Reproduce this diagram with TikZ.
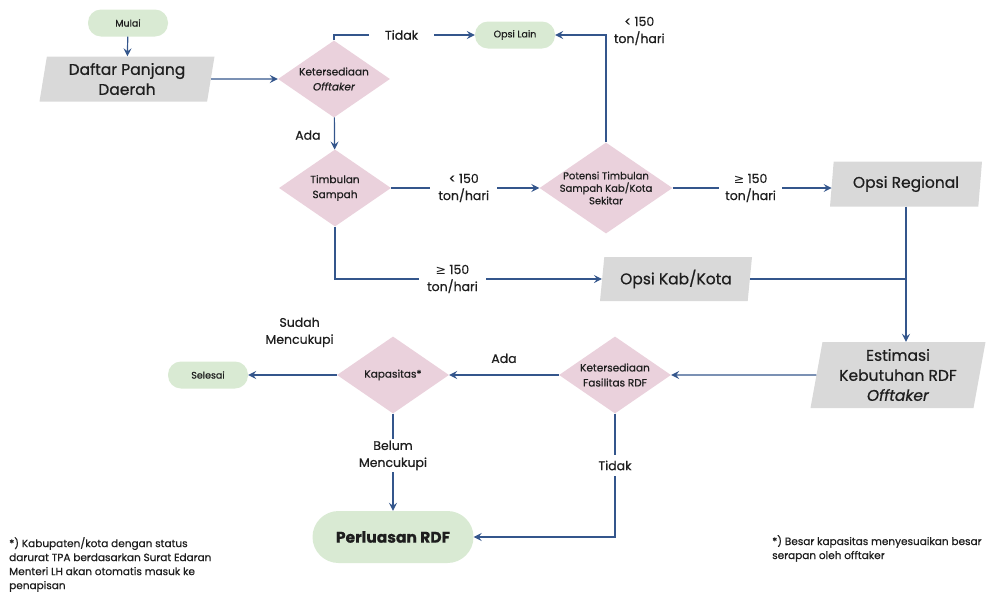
\documentclass[tikz,border=0pt]{standalone}
\usepackage{fontspec}
\setmainfont{Poppins}[FakeBold=0.6]
\newfontfamily\symfont{DejaVu Sans}
\usetikzlibrary{arrows.meta,positioning,shapes.geometric}
\definecolor{flowline}{HTML}{34568C}
\definecolor{termgreen}{HTML}{D9EAD3}
\definecolor{decpink}{HTML}{EAD1DC}
\definecolor{datagray}{HTML}{D9D9D9}
\definecolor{inktext}{HTML}{1E1E1E}
\newcommand{\gte}{{\symfont ≥}}

\begin{document}
\begin{tikzpicture}[
  x=1pt,y=-1pt,
  every node/.style={text=inktext},
  term/.style={rectangle,rounded corners=13pt,fill=termgreen,
               minimum width=80pt,minimum height=27pt,inner sep=0pt,
               font=\fontsize{9.5}{12}\selectfont},
  databox/.style={trapezium,trapezium left angle=77,trapezium right angle=103,
               trapezium stretches body,fill=datagray,minimum height=45pt,
               inner sep=0pt,align=center,font=\fontsize{15.5}{20}\selectfont},
  decide/.style={diamond,aspect=1.45,fill=decpink,minimum width=112pt,minimum height=77pt,
               inner sep=-2pt,align=center,font=\fontsize{10.5}{15}\selectfont},
  lbl/.style={fill=white,align=center,inner xsep=8pt,inner ysep=2pt,
              font=\fontsize{12.5}{17}\selectfont},
  tag/.style={align=center,font=\fontsize{12.5}{17}\selectfont},
  note/.style={align=left,inner sep=0pt,font=\fontsize{10.5}{14}\selectfont},
  arr/.style={-{Stealth[length=8pt,width=8pt,inset=3pt]},line width=1.2pt,flowline},
  seg/.style={line width=1.2pt,flowline}
]
  \useasboundingbox (0,0) rectangle (1002,595);

  % start and first choice
  \node[term] (mulai) at (128,23) {Mulai};
  \node[databox,minimum width=175pt] (daftar) at (127,79) {Daftar Panjang\\Daerah};
  \node[decide] (offtaker) at (334,79) {Ketersediaan\\\textit{Offtaker}};
  \node[term] (lain) at (515,35) {Opsi Lain};
  \node[decide] (timbulan) at (335,188) {Timbulan\\Sampah};
  \node[decide,aspect=1.46,minimum width=133pt,minimum height=91pt,inner sep=-5pt,
        font=\fontsize{10}{12.5}\selectfont] (potensi) at (606,188)
        {Potensi Timbulan\\Sampah Kab/Kota\\Sekitar};

  % options
  \node[databox,minimum width=152pt] (regional) at (906,184) {Opsi Regional};
  \node[databox,minimum width=152pt,minimum height=44pt] (kabkota) at (676,279) {Opsi Kab/Kota};
  \node[databox,minimum width=175pt,minimum height=66pt] (estimasi) at (898,375)
        {Estimasi\\Kebutuhan RDF\\\textit{Offtaker}};

  % RDF facility
  \node[decide] (fasilitas) at (615,375) {Ketersediaan\\Fasilitas RDF};
  \node[decide] (kapasitas) at (393,375) {Kapasitas*};
  \node[term] (selesai) at (208,375) {Selesai};
  \node[term,minimum width=161pt,minimum height=52pt,rounded corners=26pt,
        font=\fontsize{15.5}{20}\selectfont\bfseries] (perluasan) at (393,537) {Perluasan RDF};

  % footnotes
  \node[note,anchor=north west] (catatan1) at (9,537)
        {*) Kabupaten/kota dengan status\\darurat TPA berdasarkan Surat Edaran\\Menteri LH akan otomatis masuk ke\\penapisan};
  \node[note,anchor=north west] (catatan2) at (772,535)
        {*) Besar kapasitas menyesuaikan besar\\serapan oleh offtaker};

  % connectors
  \draw[arr] (mulai) -- (daftar);
  \draw[arr] (daftar.east) -- (offtaker.west);
  \draw[arr] (offtaker.north) |- node[lbl,pos=0.74,inner xsep=16pt]{Tidak} (lain.west);
  \draw[arr] (offtaker) -- node[tag,pos=0.55,left=10pt]{Ada} (timbulan);
  \draw[arr] (timbulan.east) -- node[lbl,pos=0.49]{< 150\\ton/hari} (potensi.west);
  \draw[arr] (potensi.north) |- node[tag,pos=0.5,anchor=west,xshift=4pt,yshift=4pt]{< 150\\ton/hari} (lain.east);
  \draw[arr] (potensi.east) -- node[lbl,pos=0.49,inner xsep=6pt]{\gte{} 150\\ton/hari} (potensi.east -| regional.west);
  \draw[arr] (timbulan.south) |- node[lbl,pos=0.72]{\gte{} 150\\ton/hari} (kabkota.west);
  \draw[seg] (kabkota.east) -- (kabkota.east -| regional.south);
  \draw[arr] (regional.south) -- (regional.south |- estimasi.north);
  \draw[arr] (estimasi.west) -- (fasilitas.east);
  \draw[arr] (fasilitas) -- node[tag,above=8pt]{Ada} (kapasitas);
  \draw[arr] (kapasitas) -- node[tag,pos=0.42,anchor=south,yshift=24pt]{Sudah\\Mencukupi} (selesai);
  \draw[arr] (kapasitas) -- node[lbl,pos=0.43,inner xsep=2pt]{Belum\\Mencukupi} (perluasan);
  \draw[arr] (fasilitas.south) |- node[lbl,pos=0.21,inner ysep=6pt,inner xsep=2pt]{Tidak} (perluasan.east);
\end{tikzpicture}
\end{document}
